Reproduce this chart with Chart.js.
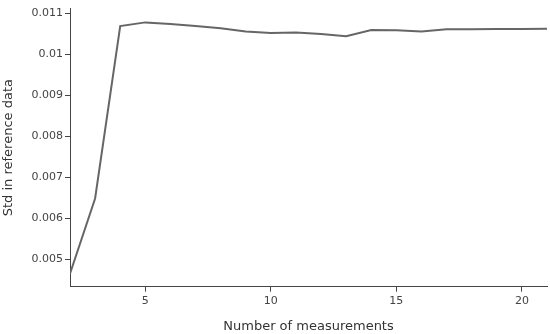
<!DOCTYPE html>
<html>
<head>
<meta charset="utf-8">
<script src="https://cdn.jsdelivr.net/npm/chart.js@4"></script>
<style>
html,body{margin:0;padding:0;background:#fff;}
#wrap{width:550px;height:334px;}
</style>
</head>
<body>
<div id="wrap"><canvas id="c" width="550" height="334"></canvas></div>
<script>
const measurements = [2,3,4,5,6,7,8,9,10,11,12,13,14,15,16,17,18,19,20,21];
const stdValues = [0.00466,0.00649,0.010695,0.010784,0.010743,0.010695,0.01064,0.01056,0.010527,0.010536,0.010503,0.010447,0.010599,0.010591,0.01056,0.010615,0.010615,0.01062,0.010623,0.01063];
const xTicks = [5,10,15,20];
const yTicks = [0.005,0.006,0.007,0.008,0.009,0.01,0.011];
const yTickLabels = ['0.005','0.006','0.007','0.008','0.009','0.01','0.011'];

const fontFam = '"DejaVu Sans", Verdana, sans-serif';
const axisColor = '#444';

new Chart(document.getElementById('c'), {
  type: 'line',
  data: {
    datasets: [{
      data: measurements.map((x,i)=>({x:x,y:stdValues[i]})),
      borderColor: '#666666',
      borderWidth: 2,
      pointRadius: 0,
      tension: 0,
      fill: false
    }]
  },
  options: {
    responsive: false,
    animation: false,
    layout: {padding: {left: 0, right: 3, top: 5, bottom: 0}},
    plugins: {legend: {display: false}, tooltip: {enabled: false}},
    scales: {
      x: {
        type: 'linear',
        min: 2, max: 21,
        afterBuildTicks: s => { s.ticks = xTicks.map(v=>({value:v})); },
        afterFit: s => { s.height = 47.3; },
        grid: {drawOnChartArea: false, drawTicks: true, tickLength: 5, color: axisColor, tickColor: axisColor},
        border: {display: true, color: axisColor, width: 1},
        ticks: {color: axisColor, font: {family: fontFam, size: 11}, padding: 3, maxRotation: 0},
        title: {display: true, text: 'Number of measurements', color: '#333', font: {family: fontFam, size: 13}, padding: {top: 0, bottom: 0}}
      },
      y: {
        type: 'linear',
        min: 0.00434, max: 0.01112,
        afterBuildTicks: s => { s.ticks = yTicks.map(v=>({value:v})); },
        afterFit: s => { s.width = 70; },
        grid: {drawOnChartArea: false, drawTicks: true, tickLength: 5, color: axisColor, tickColor: axisColor},
        border: {display: true, color: axisColor, width: 1},
        ticks: {color: axisColor, font: {family: fontFam, size: 11}, padding: 2,
          callback: (v) => { const i = yTicks.indexOf(v); return i >= 0 ? yTickLabels[i] : ''; }},
        title: {display: true, text: 'Std in reference data', color: '#333', font: {family: fontFam, size: 13}, padding: {top: 1, bottom: 0}}
      }
    }
  }
});
</script>
</body>
</html>
